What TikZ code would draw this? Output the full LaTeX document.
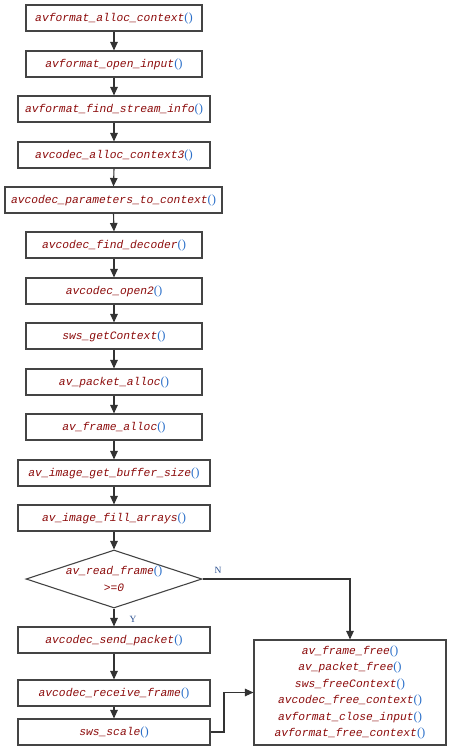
\documentclass[tikz,border=0pt]{standalone}
\usepackage{fontspec}
\setmainfont{Liberation Serif}
\setmonofont{Liberation Mono}
\usetikzlibrary{arrows.meta,shapes.geometric}
\definecolor{fnred}{HTML}{8B0A0A}
\definecolor{parblue}{HTML}{2A6FC9}
\definecolor{lblblue}{HTML}{2A4F8F}
\definecolor{boxgray}{HTML}{444444}
\newcommand{\fnname}[1]{{\color{fnred}\ttfamily\itshape #1}{\color{parblue}\rmfamily\fontsize{12.5}{13}\selectfont()}}
\begin{document}
\begin{tikzpicture}[x=1pt,y=-1pt,
  fbox/.style={draw=boxgray,line width=1.1pt,rectangle,inner sep=0pt,minimum height=26pt,
    font=\fontsize{11.3}{13}\selectfont},
  wA/.style={minimum width=176pt},
  wB/.style={minimum width=192pt},
  wC/.style={minimum width=217pt},
  conn/.style={draw=black!80,line width=1.1pt,-{Triangle[length=8.5pt,width=7.5pt]}},
  lbl/.style={text=lblblue,font=\fontsize{9.5}{10}\selectfont,inner sep=0pt}]
\useasboundingbox (0,0) rectangle (454,752);
\node[fbox,wA] (b1) at (114,18) {\fnname{avformat\_alloc\_context}};
\node[fbox,wA] (b2) at (114,64) {\fnname{avformat\_open\_input}};
\node[fbox,wB] (b3) at (114,109) {\fnname{avformat\_find\_stream\_info}};
\node[fbox,wB] (b4) at (114,155) {\fnname{avcodec\_alloc\_context3}};
\node[fbox,wC] (b5) at (113.5,200) {\fnname{avcodec\_parameters\_to\_context}};
\node[fbox,wA] (b6) at (114,245) {\fnname{avcodec\_find\_decoder}};
\node[fbox,wA] (b7) at (114,291) {\fnname{avcodec\_open2}};
\node[fbox,wA] (b8) at (114,336) {\fnname{sws\_getContext}};
\node[fbox,wA] (b9) at (114,382) {\fnname{av\_packet\_alloc}};
\node[fbox,wA] (b10) at (114,427) {\fnname{av\_frame\_alloc}};
\node[fbox,wB] (b11) at (114,473) {\fnname{av\_image\_get\_buffer\_size}};
\node[fbox,wB] (b12) at (114,518) {\fnname{av\_image\_fill\_arrays}};
\node[diamond,draw=boxgray,line width=1.1pt,minimum width=176pt,minimum height=58pt,inner sep=0pt] (dia) at (114,579) {};
\node[align=center,inner sep=0pt,font=\fontsize{11.3}{17}\selectfont] (diat) at (dia.center)
  {\fnname{av\_read\_frame}\\{\color{fnred}\ttfamily\itshape >=0}};
\node[fbox,wB] (b13) at (114,640) {\fnname{avcodec\_send\_packet}};
\node[fbox,wB] (b14) at (114,693) {\fnname{avcodec\_receive\_frame}};
\node[fbox,wB] (b15) at (114,732) {\fnname{sws\_scale}};
\node[fbox,minimum width=192pt,minimum height=105pt,align=center,
  font=\fontsize{11.3}{16.5}\selectfont] (free) at (350,692.5)
  {\fnname{av\_frame\_free}\\\fnname{av\_packet\_free}\\\fnname{sws\_freeContext}\\
   \fnname{avcodec\_free\_context}\\\fnname{avformat\_close\_input}\\\fnname{avformat\_free\_context}};
\foreach \a/\b in {b1/b2,b2/b3,b3/b4,b4/b5,b5/b6,b6/b7,b7/b8,b8/b9,b9/b10,b10/b11,b11/b12,b12/dia,dia/b13,b13/b14,b14/b15}
  \draw[conn] (\a.south) -- (\b.north);
\draw[conn] (dia.east) -| (free.north);
\coordinate (turn) at (224,732);
\draw[conn] (b15.east) -- (turn) |- (free.west);
\node[lbl] (nl) at (218,570) {N};
\node[lbl] (yl) at (133,619) {Y};
\end{tikzpicture}
\end{document}
